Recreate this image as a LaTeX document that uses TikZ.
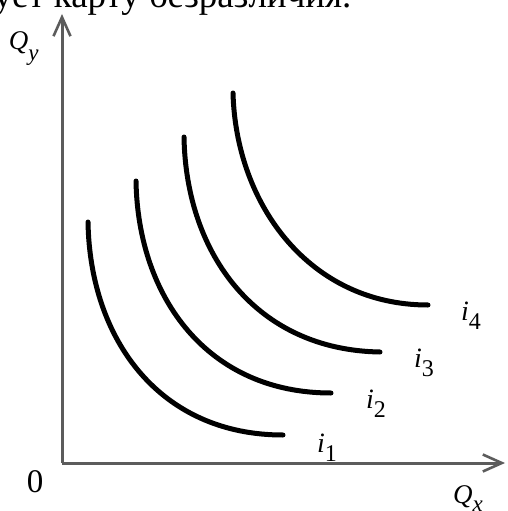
\documentclass[tikz,border=0pt]{standalone}
\usepackage{fontspec}
\setmainfont{Liberation Serif}
\usetikzlibrary{arrows.meta}
\definecolor{axisgray}{HTML}{5C5C5C}
\tikzset{
  axisline/.style={draw=axisgray, line width=3pt, -{Straight Barb[length=19pt,width=17pt,line width=2.6pt]}},
  icurve/.style={draw=black, line width=5pt, line cap=round},
  lbl/.style={anchor=base west, inner sep=0pt, outer sep=0pt},
}
\newcommand{\ilab}[1]{{\fontsize{28}{28}\selectfont\itshape i}\raisebox{-9pt}{\fontsize{24}{24}\selectfont #1}}
\begin{document}
\begin{tikzpicture}[x=1pt,y=-1pt]
\useasboundingbox (0,0) rectangle (507,511);
\begin{scope}
\clip (0,0) rectangle (507,511);
\node[lbl] (title) at (-6,8) {\fontsize{37}{37}\selectfont ует карту безразличия.};
\coordinate (O) at (62,463);
\coordinate (ytip) at (62,14);
\coordinate (xtip) at (505,463);
\draw[axisline] (O) -- (ytip);
\draw[axisline] (O) -- (xtip);
\coordinate (a1) at (88,222);  \coordinate (b1) at (283,435);
\coordinate (a2) at (136,181); \coordinate (b2) at (331,393);
\coordinate (a3) at (184,137); \coordinate (b3) at (380,352);
\coordinate (a4) at (233,93);  \coordinate (b4) at (428,305);
\draw[icurve] (a1) .. controls (90,340) and (160,435) .. (b1);
\draw[icurve] (a2) .. controls (138,298) and (208,393) .. (b2);
\draw[icurve] (a3) .. controls (186,255) and (257,350) .. (b3);
\draw[icurve] (a4) .. controls (236,205) and (310,305) .. (b4);
\node[lbl] (i4) at (461,320) {\ilab{4}};
\node[lbl] (i3) at (414,367) {\ilab{3}};
\node[lbl] (i2) at (366,408) {\ilab{2}};
\node[lbl] (i1) at (317,452) {\ilab{1}};
\node[lbl] (qy) at (9,50) {{\fontsize{27}{27}\selectfont\itshape Q}\raisebox{-10pt}{\fontsize{23}{23}\selectfont\itshape y}};
\node[lbl] (qx) at (453,503) {{\fontsize{27}{27}\selectfont\itshape Q}\raisebox{-8pt}{\fontsize{23}{23}\selectfont\itshape x}};
\node[lbl] (zero) at (27,492) {\fontsize{33}{33}\selectfont 0};
\end{scope}
\end{tikzpicture}
\end{document}
